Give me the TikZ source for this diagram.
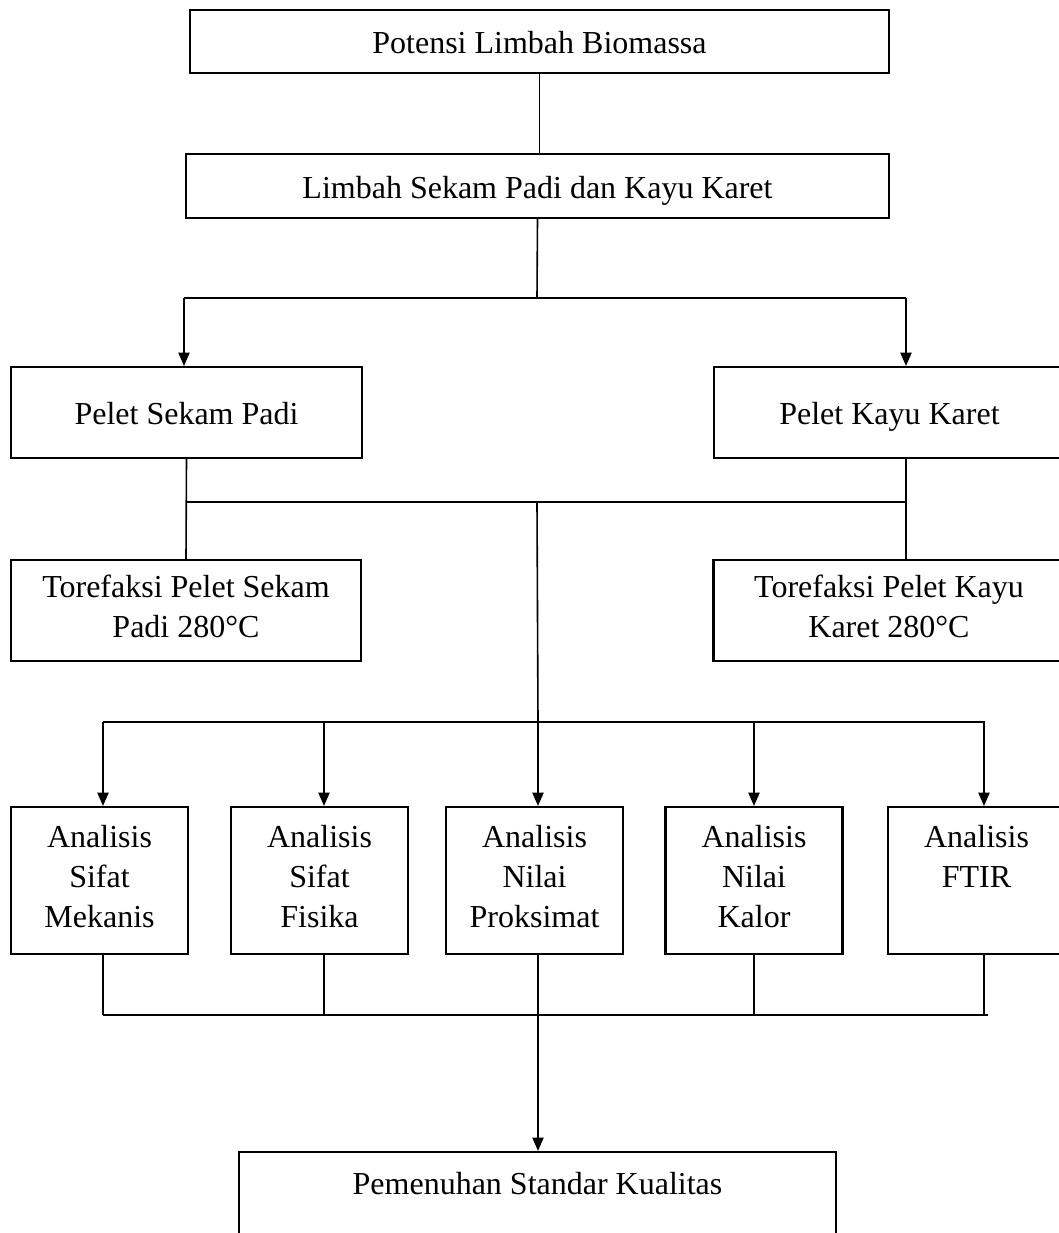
\documentclass[tikz,border=0pt]{standalone}
\usepackage{fontspec}
\setmainfont{Liberation Serif}
\usetikzlibrary{arrows.meta}

\def\pxu{0.375pt}
\def\tegak{\rule[-3pt]{0pt}{15pt}}
\tikzset{
  kotak/.style={draw, line width=0.8pt, align=center, inner sep=0pt,
    font=\fontsize{12}{15}\selectfont,
    execute at begin node=\tegak, execute at end node=\tegak},
  analisis/.style={kotak, minimum width=177*\pxu, minimum height=147*\pxu},
  garis/.style={line width=0.6pt},
  panah/.style={garis, -{Triangle[length=5pt,width=4.2pt]}}
}

\begin{document}
\begin{tikzpicture}[x=\pxu, y=-\pxu]
    \useasboundingbox (0,0) rectangle (1059,1233);
    \clip (0,0) rectangle (1059,1233);

    % bagian atas
    \node[kotak, minimum width=699*\pxu, minimum height=63*\pxu] (potensi) at (539.5,41.5) {Potensi Limbah Biomassa};
    \node[kotak, minimum width=703*\pxu, minimum height=64*\pxu] (limbah) at (537.5,186) {Limbah Sekam Padi dan Kayu Karet};

    % pelet
    \node[kotak, minimum width=351*\pxu, minimum height=91*\pxu] (peletsp) at (186.5,412.5) {Pelet Sekam Padi};
    \node[kotak, minimum width=351*\pxu, minimum height=91*\pxu] (peletkk) at (889.5,412.5) {Pelet Kayu Karet};

    % torefaksi
    \node[kotak, minimum width=350*\pxu, minimum height=101*\pxu] (torsp) at (186,610.5) {Torefaksi Pelet Sekam\\Padi 280°C};
    \node[kotak, minimum width=351*\pxu, minimum height=101*\pxu] (torkk) at (889,610.5) {Torefaksi Pelet Kayu\\Karet 280°C};

    % analisis
    \foreach \n/\x/\teks in {mekanis/99.5/{Analisis\\Sifat\\Mekanis},
                            fisika/319.5/{Analisis\\Sifat\\Fisika},
                            proksimat/534.5/{Analisis\\Nilai\\Proksimat},
                            kalor/754/{Analisis\\Nilai\\Kalor},
                            ftir/976.5/{Analisis\\FTIR\\}} {
        \node[analisis] (\n) at (\x,880.5) {\teks};
    }

    \node[kotak, minimum width=597*\pxu, minimum height=110*\pxu] (pemenuhan) at (537.5,1207) {Pemenuhan Standar Kualitas\\};

    % garis penghubung
    \draw[garis] (potensi.south) -- (potensi.south |- limbah.north);
    \coordinate (cabang1) at (537,298);
    \coordinate (kiri1) at (184,298);
    \coordinate (kanan1) at (906,298);
    \draw[garis] (limbah.south) -- (cabang1);
    \draw[garis] (kiri1) -- (kanan1);
    \draw[panah] (kiri1) -- (kiri1 |- peletsp.north);
    \draw[panah] (kanan1) -- (kanan1 |- peletkk.north);

    \coordinate (kiri2) at (186,502);
    \coordinate (kanan2) at (906,502);
    \coordinate (tengah2) at (537,502);
    \coordinate (tengah3) at (538,722);
    \draw[garis] (peletsp.south) -- (torsp.north);
    \draw[garis] (kanan2 |- peletkk.south) -- (kanan2 |- torkk.north);
    \draw[garis] (kiri2) -- (kanan2);
    \draw[garis] (tengah2) -- (tengah3);

    \draw[garis] (103,722) coordinate (kiri3) -- (985,722) coordinate (kanan3);
    \draw[garis] (103,1015) coordinate (kiri4) -- (988,1015) coordinate (kanan4);
    \foreach \n/\x in {mekanis/103, fisika/324, proksimat/538, kalor/754, ftir/984} {
        \coordinate (atas-\n) at (\x,722);
        \coordinate (bawah-\n) at (\x,1015);
        \draw[panah] (atas-\n) -- (atas-\n |- \n.north);
        \draw[garis] (bawah-\n |- \n.south) -- (bawah-\n);
    }

    \coordinate (tengah4) at (538,1015);
    \draw[panah] (tengah4) -- (tengah4 |- pemenuhan.north);

\end{tikzpicture}
\end{document}
